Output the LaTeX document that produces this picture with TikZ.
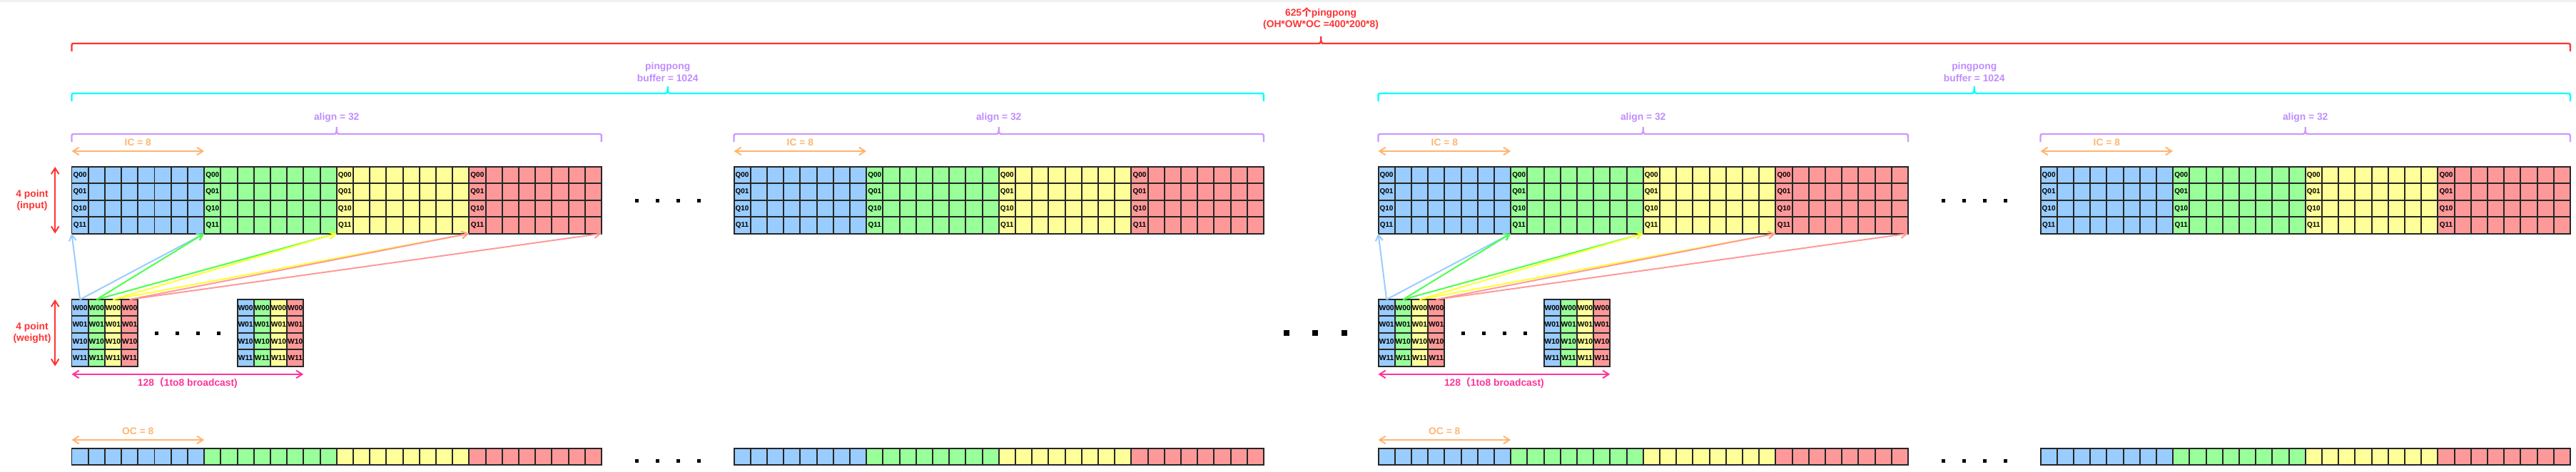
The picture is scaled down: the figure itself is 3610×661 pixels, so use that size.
\documentclass[tikz,border=0pt]{standalone}
\usepackage{fontspec}
\setmainfont{Liberation Sans}
\newfontfamily\cjk{Noto Sans CJK SC}
\usetikzlibrary{arrows.meta}

\definecolor{qblue}{HTML}{99CCFF}
\definecolor{qgreen}{HTML}{99FF99}
\definecolor{qyellow}{HTML}{FFFF99}
\definecolor{qred}{HTML}{FF9999}
\definecolor{lgreen}{HTML}{4DFF4D}
\definecolor{lyellow}{HTML}{FFFF33}
\definecolor{bred}{HTML}{FF3333}
\definecolor{bcyan}{HTML}{00FFFF}
\definecolor{bpurple}{HTML}{CC99FF}
\definecolor{tpurple}{HTML}{BF8CFF}
\definecolor{peach}{HTML}{FFB570}
\definecolor{bpink}{HTML}{FF3399}

\tikzset{
  cell/.style={draw=black!85,line width=1.7pt,minimum width=0.696cm,minimum height=0.702cm,
    inner sep=0pt,outer sep=0pt,anchor=north west,font=\bfseries\fontsize{8.5}{9}\selectfont},
  wcell/.style={cell,font=\bfseries\fontsize{8.8}{9}\selectfont},
  lbl/.style={font=\bfseries\fontsize{11.8}{14}\selectfont,align=center,inner sep=0pt},
  spanarrow/.style={line width=1.7pt,{Straight Barb[length=0.25cm,width=0.32cm]}-{Straight Barb[length=0.25cm,width=0.32cm]}},
  feedline/.style={line width=1.7pt,-{Straight Barb[length=0.25cm,width=0.3cm]}},
  bracket/.style={line width=2pt},
  dotmark/.style={fill=black,minimum size=0.15cm,inner sep=0pt},
}

\newcommand{\curlytop}[4]{%
  \pgfmathsetmacro\bm{(#1+#2)/2}%
  \draw[bracket,#4] (#1,#3+11) -- (#1,#3+5) .. controls (#1,#3) .. ({#1+5},#3)
    -- ({\bm-6},#3) .. controls (\bm,#3) .. (\bm,#3-10)
    .. controls (\bm,#3) .. ({\bm+6},#3) -- ({#2-5},#3)
    .. controls (#2,#3) .. (#2,#3+5) -- (#2,#3+11);}

\begin{document}
\begin{tikzpicture}[x=0.03cm,y=-0.03cm,font=\bfseries]
    \useasboundingbox (0,0) rectangle (3610,661);
    \fill[black!6] (0,0) rectangle (3610,3);

    \node[lbl,text=bred] (title) at (1851,26) {625{\cjk 个}pingpong\\(OH*OW*OC =400*200*8)};
    \curlytop{100.5}{3601.9}{61}{bred}

    \foreach \h/\xo in {1/100.5,2/1931.5}{
      \curlytop{\xo}{\xo+1670.4}{131}{bcyan}
      \node[lbl,text=tpurple] (buf-\h) at (\xo+835.2,101) {pingpong\\buffer = 1024};

      \foreach \b in {1,2}{
        \pgfmathsetmacro\bx{\xo+(\b-1)*928}
        \curlytop{\bx}{\bx+742.4}{188}{bpurple}
        \node[lbl,text=tpurple] (align-\h-\b) at (\bx+371.2,165) {align = 32};
        \foreach \grp/\col in {0/qblue,1/qgreen,2/qyellow,3/qred}{
          \foreach \k in {0,...,7}{
            \pgfmathtruncatemacro\c{8*\grp+\k}
            \foreach \r/\q in {0/Q00,1/Q01,2/Q10,3/Q11}
              \node[cell,fill=\col] (g-\h-\b-\c-\r) at (\bx+\c*23.2,234+\r*23.4) {\ifnum\k=0 \q\fi};
            \node[cell,fill=\col] (o-\h-\b-\c) at (\bx+\c*23.2,629) {};
          }
        }
        \draw[spanarrow,peach] ([yshift=0.66cm]g-\h-\b-0-0.north west) -- ([yshift=0.66cm]g-\h-\b-7-0.north east);
        \node[lbl,text=peach] (ic-\h-\b) at (\bx+92.8,200) {IC = 8};
      }
      \foreach \i in {0,...,3}{
        \node[dotmark] (gd-\h-\i) at (\xo+791.5+\i*29,281) {};
        \node[dotmark] (od-\h-\i) at (\xo+791.5+\i*29,646) {};
        \node[dotmark] (wd-\h-\i) at (\xo+118.5+\i*29.3,467) {};
      }

      \foreach \w/\wx in {1/0,2/232}{
        \foreach \c/\col in {0/qblue,1/qgreen,2/qyellow,3/qred}
          \foreach \r/\q in {0/W00,1/W01,2/W10,3/W11}
            \node[wcell,fill=\col] (w-\h-\w-\c-\r) at (\xo+\wx+\c*23.2,420+\r*23.4) {\q};
      }
      \foreach \grp/\col in {0/qblue,1/lgreen,2/lyellow,3/qred}{
        \pgfmathtruncatemacro\lo{8*\grp}
        \pgfmathtruncatemacro\hi{8*\grp+7}
        \draw[feedline,\col] (w-\h-1-\grp-0.north) -- (g-\h-1-\lo-3.south west);
        \draw[feedline,\col] (w-\h-1-\grp-0.north) -- (g-\h-1-\hi-3.south east);
      }

      \draw[spanarrow,bpink] ([yshift=-0.34cm]w-\h-1-0-3.south west) -- ([yshift=-0.34cm]w-\h-2-3-3.south east);
      \node[lbl,text=bpink] (bc-\h) at (\xo+162.4,537) {128{\cjk （}1to8 broadcast)};

      \draw[spanarrow,peach] ([yshift=0.36cm]o-\h-1-0.north west) -- ([yshift=0.36cm]o-\h-1-7.north east);
      \node[lbl,text=peach] (oc-\h) at (\xo+92.8,605) {OC = 8};
    }

    \draw[spanarrow,bred] ([xshift=-0.7cm]g-1-1-0-0.north west) -- ([xshift=-0.7cm]g-1-1-0-3.south west);
    \node[lbl,text=bred] (pin) at (45,281) {4 point\\(input)};
    \draw[spanarrow,bred] ([xshift=-0.7cm]w-1-1-0-0.north west) -- ([xshift=-0.7cm]w-1-1-0-3.south west);
    \node[lbl,text=bred] (pwt) at (45,467) {4 point\\(weight)};

    \foreach \i/\dx in {0/1803,1/1843,2/1884}
      \node[dotmark,minimum size=0.24cm] (big-\i) at (\dx,467) {};
\end{tikzpicture}
\end{document}
